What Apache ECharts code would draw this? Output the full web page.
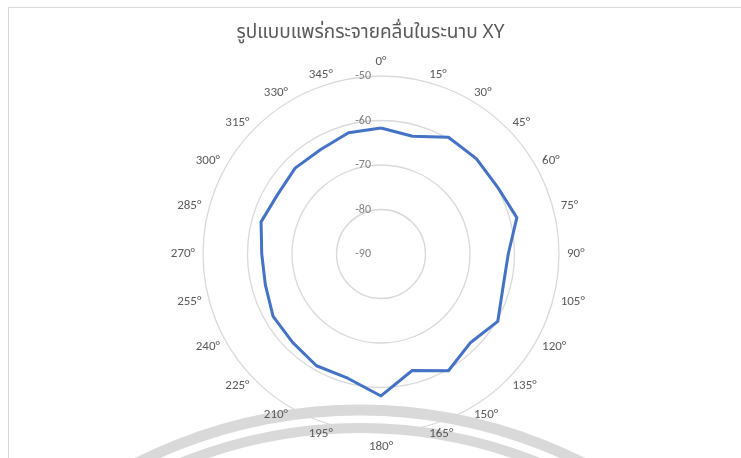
<!DOCTYPE html>
<html>
<head>
<meta charset="utf-8">
<script src="https://cdn.jsdelivr.net/npm/echarts@6/dist/echarts.min.js"></script>
<style>html,body{margin:0;padding:0;background:#fff}#c{width:741px;height:458px}</style>
</head>
<body>
<div id="c"></div>
<script>
const titleText = 'รูปแบบแพร่กระจายคลื่นในระนาบ XY';
const angles = [0,15,30,45,60,75,90,105,120,135,150,165,180,195,210,225,240,255,270,285,300,315,330,345];
const levels = [-61.7,-62.6,-59.7,-59.7,-59.8,-58.4,-61.4,-61.6,-59.7,-61.7,-59.7,-62.9,-58.1,-61.1,-61.0,-61.9,-62.0,-63.1,-63.2,-62.1,-63.2,-62.7,-62.9,-61.8];
const rMin = -90, rMax = -50, rStep = 10;

// radar places indicators counter-clockwise; reorder so angles run clockwise
const order = angles.map((a, i) => i === 0 ? 0 : angles.length - i);
const indicator = order.map(i => ({ name: angles[i] + '°', min: rMin, max: rMax }));
const values = order.map(i => levels[i]);

const chart = echarts.init(document.getElementById('c'));
const txt = '#595959';
chart.setOption({
  animation: false,
  backgroundColor: '#fff',
  title: {
    text: titleText, left: 'center', top: 20,
    textStyle: { fontSize: 19, fontWeight: 'normal', color: txt, fontFamily: 'Tahoma, "Noto Sans Thai", "Noto Sans", sans-serif' }
  },
  graphic: [
    { type: 'rect', shape: { x: 8.5, y: 7.5, width: 760, height: 470 }, style: { fill: 'none', stroke: '#d9d9d9', lineWidth: 1 }, z: -10 },
    { type: 'circle', shape: { cx: 360, cy: 905, r: 495 }, style: { fill: 'none', stroke: '#d9d9d9', lineWidth: 11 }, z: -5 },
    { type: 'circle', shape: { cx: 360, cy: 905, r: 477 }, style: { fill: 'none', stroke: '#d9d9d9', lineWidth: 10 }, z: -5 }
  ],
  radar: {
    center: [381, 254], radius: 178, startAngle: 90, splitNumber: 4, shape: 'circle',
    indicator: indicator,
    axisName: { color: txt, fontSize: 13, fontFamily: 'Calibri, Carlito, "Liberation Sans", sans-serif' },
    nameGap: 8,
    axisLine: { show: false },
    axisTick: { show: false },
    axisLabel: { show: false },
    splitArea: { show: false },
    splitLine: { lineStyle: { color: '#d9d9d9', width: 1.3 } }
  },
  polar: { center: [381, 254], radius: 178 },
  angleAxis: { type: 'value', min: 0, max: 360, startAngle: 90, show: false },
  radiusAxis: {
    type: 'value', min: rMin, max: rMax, interval: rStep,
    axisLine: { show: false }, axisTick: { show: false }, splitLine: { show: false },
    axisLabel: { color: '#7f7f7f', fontSize: 12, margin: 10, fontFamily: 'Calibri, Carlito, "Liberation Sans", sans-serif' }
  },
  series: [{
    type: 'radar',
    symbol: 'none',
    lineStyle: { color: '#4472C4', width: 3 },
    data: [{ value: values }]
  }]
});
</script>
</body>
</html>
